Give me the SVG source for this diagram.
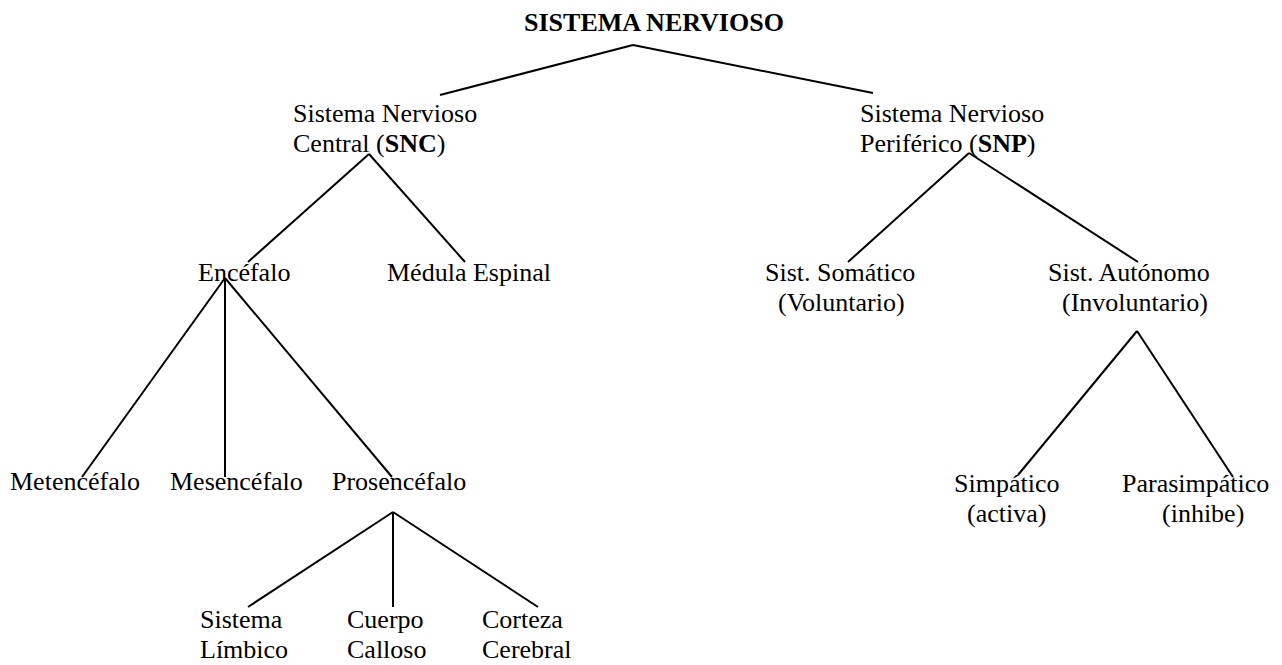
<svg xmlns="http://www.w3.org/2000/svg" width="1282" height="665" viewBox="0 0 1282 665">
<style>
text{font-family:"Liberation Serif","Times New Roman",serif;font-size:26px;fill:#000}
.b{font-weight:bold}
.c line{stroke:#000;stroke-width:2;stroke-linecap:butt}
</style>
<rect width="1282" height="665" fill="#fff"/>
<g class="c" id="connectors">
<line x1="633" y1="45" x2="440" y2="95"/>
<line x1="633" y1="45" x2="873" y2="93"/>
<line x1="369" y1="154" x2="248" y2="262"/>
<line x1="369" y1="154" x2="465" y2="262"/>
<line x1="969" y1="153" x2="848" y2="262"/>
<line x1="969" y1="153" x2="1138" y2="262"/>
<line x1="225" y1="278" x2="82" y2="477"/>
<line x1="225" y1="278" x2="225" y2="477"/>
<line x1="225" y1="278" x2="392" y2="477"/>
<line x1="393" y1="512" x2="248" y2="607"/>
<line x1="393" y1="512" x2="393" y2="607"/>
<line x1="393" y1="512" x2="538" y2="607"/>
<line x1="1137" y1="331" x2="1018" y2="475"/>
<line x1="1137" y1="331" x2="1233" y2="477"/>
</g>
<g id="root"><text class="b" x="524" y="31">SISTEMA NERVIOSO</text></g>
<g id="snc"><text x="293" y="122">Sistema Nervioso</text><text x="293" y="152">Central (<tspan class="b">SNC</tspan>)</text></g>
<g id="snp"><text x="860" y="122">Sistema Nervioso</text><text x="860" y="152">Periférico (<tspan class="b">SNP</tspan>)</text></g>
<g id="encefalo"><text x="198" y="281">Encéfalo</text></g>
<g id="medula"><text x="387" y="281">Médula Espinal</text></g>
<g id="somatico"><text x="765" y="281">Sist. Somático</text><text x="778" y="311">(Voluntario)</text></g>
<g id="autonomo"><text x="1048" y="281">Sist. Autónomo</text><text x="1062" y="311">(Involuntario)</text></g>
<g id="metencefalo"><text x="10" y="490">Metencéfalo</text></g>
<g id="mesencefalo"><text x="170" y="490">Mesencéfalo</text></g>
<g id="prosencefalo"><text x="332" y="490">Prosencéfalo</text></g>
<g id="simpatico"><text x="954" y="492">Simpático</text><text x="967" y="522">(activa)</text></g>
<g id="parasimpatico"><text x="1122" y="492">Parasimpático</text><text x="1162" y="522">(inhibe)</text></g>
<g id="limbico"><text x="200" y="628">Sistema</text><text x="200" y="658">Límbico</text></g>
<g id="calloso"><text x="347" y="628">Cuerpo</text><text x="347" y="658">Calloso</text></g>
<g id="corteza"><text x="482" y="628">Corteza</text><text x="482" y="658">Cerebral</text></g>
</svg>
